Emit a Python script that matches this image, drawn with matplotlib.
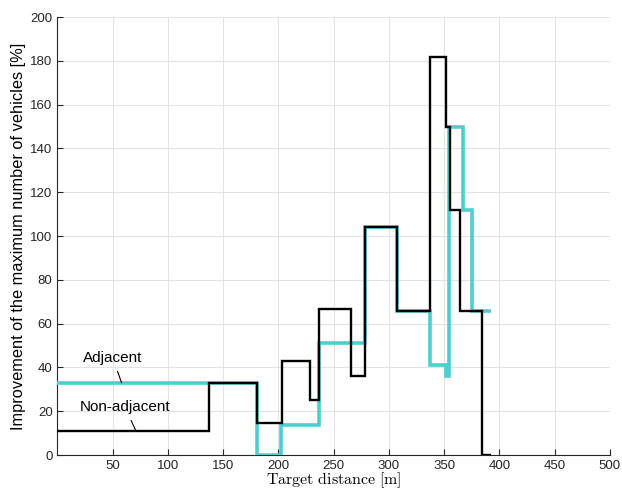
import matplotlib.pyplot as plt
import numpy as np

plt.rcParams['font.family'] = ['Liberation Sans', 'DejaVu Sans']
plt.rcParams['mathtext.fontset'] = 'cm'

# Step data (edges in m, values in %)
adj_edges = [0, 180.5, 202.5, 237, 278.5, 307.5, 337, 351.6, 354.5, 367, 375.5, 392]
adj_values = [33, 0, 13.5, 51, 104, 66, 41, 36, 150, 112, 66]

nonadj_edges = [0, 137, 180.5, 203, 229, 237, 266, 278.5, 307.5, 337, 352, 355.5, 364.5, 384.5, 392]
nonadj_values = [11, 33, 14.5, 43, 25, 66.5, 36, 104, 66, 182, 150, 112, 66, 0]

x_ticks = [50, 100, 150, 200, 250, 300, 350, 400, 450, 500]
y_ticks = [0, 20, 40, 60, 80, 100, 120, 140, 160, 180, 200]

fig = plt.figure(figsize=(6.22, 4.92), dpi=100)
ax = fig.add_axes([0.0924, 0.0752, 0.888, 0.890])

ax.stairs(adj_values, adj_edges, color='#4ecfcf', linewidth=2.6, baseline=None, zorder=3)
ax.stairs(nonadj_values, nonadj_edges, color='black', linewidth=1.7, baseline=None, zorder=4)

ax.set_xlim(0, 500)
ax.set_ylim(0, 200)
ax.set_xticks(x_ticks)
ax.set_yticks(y_ticks)
ax.grid(True, color='#e3e3e3', linewidth=0.8)
ax.set_axisbelow(True)
ax.spines['top'].set_visible(False)
ax.spines['right'].set_visible(False)
ax.tick_params(direction='in', length=4, labelsize=9.5, colors='#262626')
for s in ['left', 'bottom']:
    ax.spines[s].set_color('#262626')

ax.set_ylabel('Improvement of the maximum number of vehicles [%]', fontsize=11.8, labelpad=3)
ax.set_xlabel(r'$\mathrm{Target\ distance\ [m]}$', fontsize=11.5, labelpad=-1)

ax.annotate('Adjacent', xy=(58, 33), xytext=(50, 44.5), fontsize=11,
            ha='center', va='center',
            arrowprops=dict(arrowstyle='-', color='black', linewidth=0.8, shrinkA=3, shrinkB=0))
ax.annotate('Non-adjacent', xy=(71, 11), xytext=(61, 22), fontsize=11,
            ha='center', va='center',
            arrowprops=dict(arrowstyle='-', color='black', linewidth=0.8, shrinkA=3, shrinkB=0))

fig.savefig('out.png', dpi=100)
